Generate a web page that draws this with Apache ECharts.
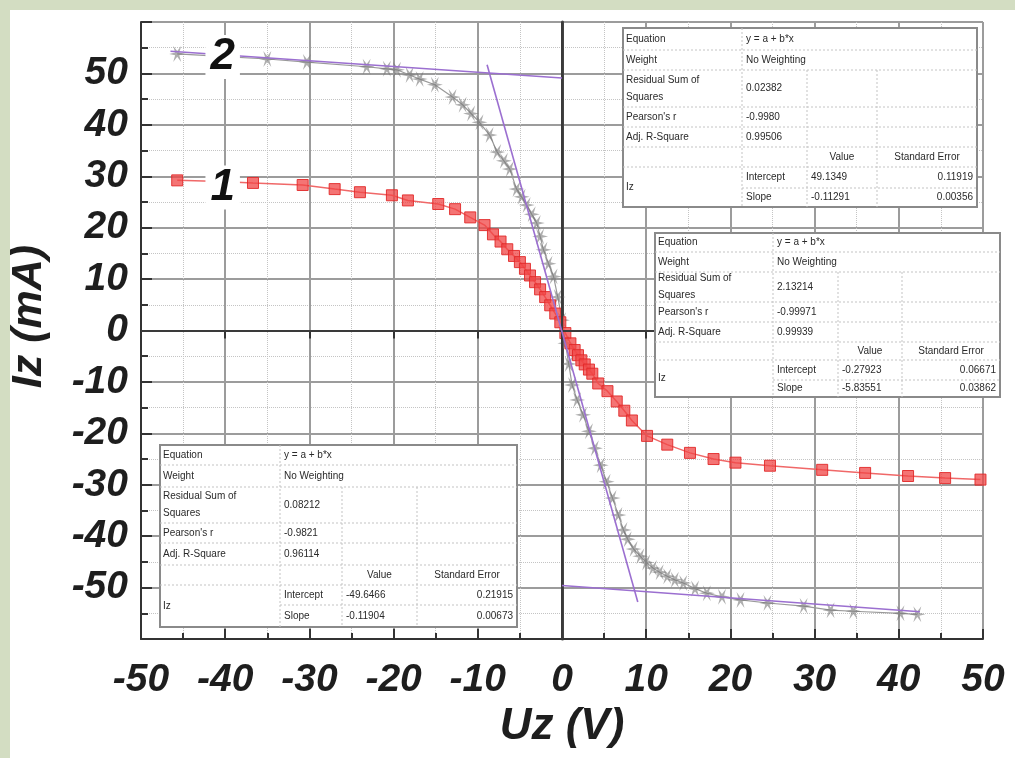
<!DOCTYPE html>
<html>
<head>
<meta charset="utf-8">
<script src="https://cdn.jsdelivr.net/npm/echarts@6/dist/echarts.min.js"></script>
<style>
  html, body { margin: 0; padding: 0; background: #fff; }
  #chart { width: 1015px; height: 758px; }
</style>
</head>
<body>
<div id="chart"></div>
<script>
// curve 1 (red squares) : Uz (V), Iz (mA)
var curve1X = [-45.7, -40.5, -36.7, -30.8, -27.0, -24.0, -20.2, -18.3, -14.7, -12.7, -10.9, -9.2, -8.2, -7.3, -6.5, -5.7, -5.0, -4.4, -3.8, -3.2, -2.6, -2.0, -1.4, -0.8, -0.2, 0.4, 1.0, 1.5, 1.9, 2.3, 2.7, 3.2, 3.6, 4.3, 5.4, 6.5, 7.4, 8.3, 10.1, 12.5, 15.2, 18.0, 20.6, 24.7, 30.9, 36.0, 41.1, 45.5, 49.7];
var curve1Y = [29.2, 29.0, 28.7, 28.3, 27.5, 26.9, 26.3, 25.3, 24.6, 23.6, 22.0, 20.5, 18.7, 17.3, 15.8, 14.5, 13.3, 12.0, 10.7, 9.4, 8.0, 6.5, 4.9, 3.3, 1.6, -0.5, -2.5, -3.8, -4.8, -5.8, -6.6, -7.6, -8.4, -10.3, -11.8, -13.8, -15.6, -17.5, -20.5, -22.2, -23.8, -25.0, -25.7, -26.3, -27.1, -27.7, -28.3, -28.7, -29.0];

// curve 2 (grey stars)
var curve2X = [-45.7, -40.5, -35.0, -30.3, -23.2, -20.8, -19.6, -18.1, -16.9, -15.1, -13.0, -11.8, -10.8, -9.8, -8.6, -7.7, -6.9, -6.2, -5.4, -4.8, -4.2, -3.6, -3.0, -2.6, -2.2, -1.6, -1.0, -0.5, 0.0, 0.4, 0.8, 1.2, 1.8, 2.5, 3.2, 3.9, 4.6, 5.3, 6.0, 6.7, 7.3, 7.8, 8.5, 9.3, 10.0, 10.8, 11.6, 12.5, 13.4, 14.4, 15.8, 17.2, 19.0, 21.2, 24.4, 28.7, 31.9, 34.6, 40.2, 42.2];
var curve2Y = [53.8, 53.3, 52.8, 52.2, 51.3, 50.9, 50.7, 49.7, 48.9, 47.8, 45.4, 43.9, 42.2, 40.5, 38.0, 34.7, 33.0, 31.4, 27.5, 26.0, 24.4, 22.6, 20.9, 18.3, 15.7, 13.0, 10.5, 6.5, 2.0, -2.5, -6.5, -10.6, -13.5, -16.4, -19.6, -22.9, -26.2, -29.4, -32.6, -35.9, -38.8, -40.6, -42.5, -43.9, -45.1, -46.2, -47.0, -47.8, -48.5, -49.1, -50.2, -51.1, -51.8, -52.4, -53.0, -53.6, -54.4, -54.6, -55.0, -55.2];

// linear fit segments (end points)
var fitTop = [[-46.5, 54.3], [0, 49.1]];
var fitMid = [[-8.9, 51.7], [9.0, -52.8]];
var fitBottom = [[0, -49.6], [42.5, -54.7]];

// curve number labels: text, Uz, Iz
var curveLabels = [['2', -40.3, 53.2], ['1', -40.3, 27.8]];

var yHiddenTicks = [60, -60];

// fit result tables
var rowNames = ['Equation', 'Weight', 'Residual Sum of\nSquares', "Pearson's r", 'Adj. R-Square'];
var tableTop = ['y = a + b*x', 'No Weighting', '0.02382', '-0.9980', '0.99506', '49.1349', '0.11919', '-0.11291', '0.00356'];
var tableMid = ['y = a + b*x', 'No Weighting', '2.13214', '-0.99971', '0.99939', '-0.27923', '0.06671', '-5.83551', '0.03862'];
var tableLow = ['y = a + b*x', 'No Weighting', '0.08212', '-0.9821', '0.96114', '-49.6466', '0.21915', '-0.11904', '0.00673'];

var tableTopGeom = { x: [623, 742, 807, 877, 977], y: [28, 50, 70, 107, 127, 147, 167, 188, 207] };
var tableMidGeom = { x: [655, 773, 838, 902, 1000], y: [233, 252, 272, 302, 322, 342, 360, 380, 397] };
var tableLowGeom = { x: [160, 280, 342, 417, 517], y: [445, 465, 487, 523, 543, 565, 585, 605, 627] };

var FONT = "'Liberation Sans', Arial, sans-serif";
var starPath = 'path://M20 10 L12.6 11.5 L15 18.66 L10 13 L5 18.66 L7.4 11.5 L0 10 L7.4 8.5 L5 1.34 L10 7 L15 1.34 L12.6 8.5 Z';

function zip(xs, ys) {
    var out = [];
    for (var i = 0; i < xs.length; i++) out.push([xs[i], ys[i]]);
    return out;
}

function makeTable(g, vals) {
    var X = g.x, Y = g.y, els = [];
    var line = '#c4c4c4';
    els.push({ type: 'rect', z: 100, shape: { x: X[0], y: Y[0], width: X[4] - X[0], height: Y[8] - Y[0] },
        style: { fill: '#fff', stroke: '#8a8a8a', lineWidth: 2 } });
    for (var i = 1; i < 8; i++) {
        els.push({ type: 'line', z: 101, shape: { x1: i === 7 ? X[1] : X[0], y1: Y[i], x2: X[4], y2: Y[i] },
            style: { stroke: line, lineWidth: 1, lineDash: [2, 2] } });
    }
    els.push({ type: 'line', z: 101, shape: { x1: X[1], y1: Y[0], x2: X[1], y2: Y[8] }, style: { stroke: line, lineWidth: 1, lineDash: [2, 2] } });
    els.push({ type: 'line', z: 101, shape: { x1: X[2], y1: Y[2], x2: X[2], y2: Y[8] }, style: { stroke: line, lineWidth: 1, lineDash: [2, 2] } });
    els.push({ type: 'line', z: 101, shape: { x1: X[3], y1: Y[2], x2: X[3], y2: Y[8] }, style: { stroke: line, lineWidth: 1, lineDash: [2, 2] } });

    function txt(s, x, y, align) {
        els.push({ type: 'text', z: 102, x: x, y: y,
            style: { text: s, fill: '#2a2a2a', font: '10px ' + FONT, align: align || 'left', verticalAlign: 'middle', lineHeight: 17 } });
    }
    for (var r = 0; r < 5; r++) {
        txt(rowNames[r], X[0] + 3, (Y[r] + Y[r + 1]) / 2);
        txt(vals[r], X[1] + 4, (Y[r] + Y[r + 1]) / 2);
    }
    txt('Value', (X[2] + X[3]) / 2, (Y[5] + Y[6]) / 2, 'center');
    txt('Standard Error', (X[3] + X[4]) / 2, (Y[5] + Y[6]) / 2, 'center');
    txt('Iz', X[0] + 3, (Y[6] + Y[8]) / 2);
    txt('Intercept', X[1] + 4, (Y[6] + Y[7]) / 2);
    txt('Slope', X[1] + 4, (Y[7] + Y[8]) / 2);
    txt(vals[5], X[2] + 4, (Y[6] + Y[7]) / 2);
    txt(vals[7], X[2] + 4, (Y[7] + Y[8]) / 2);
    txt(vals[6], X[4] - 4, (Y[6] + Y[7]) / 2, 'right');
    txt(vals[8], X[4] - 4, (Y[7] + Y[8]) / 2, 'right');
    return els;
}

var chart = echarts.init(document.getElementById('chart'));

var labelFont = { color: '#1e1e1e', fontFamily: FONT, fontWeight: 'bold', fontStyle: 'italic', fontSize: 39 };

var graphics = [
    { type: 'rect', z: 0, shape: { x: 0, y: 0, width: 10, height: 758 }, style: { fill: '#d3ddc2' } },
    { type: 'rect', z: 0, shape: { x: 0, y: 0, width: 1015, height: 10 }, style: { fill: '#d3ddc2' } }
].concat(makeTable(tableTopGeom, tableTop), makeTable(tableMidGeom, tableMid), makeTable(tableLowGeom, tableLow));

chart.setOption({
    animation: false,
    backgroundColor: '#ffffff',
    grid: { left: 140, right: 32, top: 22, bottom: 119 },
    xAxis: [{
        type: 'value', min: -50, max: 50, interval: 10,
        name: 'Uz (V)', nameLocation: 'middle', nameGap: 66,
        nameTextStyle: Object.assign({}, labelFont, { fontSize: 44 }),
        axisLine: { onZero: false, lineStyle: { color: '#333', width: 2 } },
        axisTick: { inside: true, length: 10, lineStyle: { color: '#333', width: 2 } },
        minorTick: { show: true, splitNumber: 2, length: 6, lineStyle: { color: '#333', width: 2 } },
        axisLabel: Object.assign({ margin: 22 }, labelFont),
        splitLine: { show: true, lineStyle: { color: '#9c9c9c', width: 2 } },
        minorSplitLine: { show: true, lineStyle: { color: '#c4c4c4', width: 1, type: 'dotted' } }
    }, {
        type: 'value', min: -50, max: 50, interval: 10, position: 'top',
        axisLine: { lineStyle: { color: '#333', width: 2 } },
        axisTick: { inside: true, length: 8, lineStyle: { color: '#333', width: 2 } },
        axisLabel: { show: false }, splitLine: { show: false }
    }],
    yAxis: [{
        type: 'value', min: -60, max: 60, interval: 10,
        name: 'Iz (mA)', nameLocation: 'middle', nameGap: 90,
        nameTextStyle: Object.assign({}, labelFont, { fontSize: 43, padding: [0, 0, 0, 28] }),
        axisLine: { show: true, onZero: false, lineStyle: { color: '#333', width: 2 } },
        axisTick: { show: true, inside: true, length: 11, lineStyle: { color: '#333', width: 2 } },
        minorTick: { show: true, splitNumber: 2, length: 7, lineStyle: { color: '#333', width: 2 } },
        axisLabel: Object.assign({
            margin: 13,
            formatter: function (v) { return yHiddenTicks.indexOf(v) >= 0 ? '' : String(v); }
        }, labelFont),
        splitLine: { show: true, lineStyle: { color: '#9c9c9c', width: 2 } },
        minorSplitLine: { show: true, lineStyle: { color: '#c4c4c4', width: 1, type: 'dotted' } }
    }, {
        type: 'value', min: -60, max: 60, interval: 10, position: 'right',
        axisLine: { show: true, lineStyle: { color: '#444', width: 3 } },
        axisTick: { show: false }, axisLabel: { show: false }, splitLine: { show: false }
    }],
    graphic: graphics,
    series: [
        {
            type: 'line', silent: true, data: [], symbol: 'none',
            markLine: {
                symbol: 'none', silent: true, label: { show: false },
                lineStyle: { color: '#3a3a3a', width: 2, type: 'solid' },
                data: [{ xAxis: 0 }, { yAxis: 0 }]
            }
        },
        {
            name: '2', type: 'line', data: zip(curve2X, curve2Y), z: 3,
            symbol: starPath, symbolSize: 16,
            itemStyle: { color: 'rgba(120,120,120,0.6)' },
            lineStyle: { color: '#9a9a9a', width: 1.2 }
        },
        {
            name: '1', type: 'line', data: zip(curve1X, curve1Y), z: 4,
            symbol: 'rect', symbolSize: 11,
            itemStyle: { color: 'rgba(240,70,70,0.75)', borderColor: 'rgba(225,40,40,0.9)', borderWidth: 1 },
            lineStyle: { color: '#f06868', width: 1.5 }
        },
        { type: 'line', data: fitTop, symbol: 'none', z: 5, lineStyle: { color: '#9b6fd0', width: 1.6 } },
        { type: 'line', data: fitMid, symbol: 'none', z: 5, lineStyle: { color: '#9b6fd0', width: 1.6 } },
        { type: 'line', data: fitBottom, symbol: 'none', z: 5, lineStyle: { color: '#9b6fd0', width: 1.6 } }
    ]
});

// curve number labels, placed through the axes' scales
var labelEls = curveLabels.map(function (c) {
    var p = chart.convertToPixel({ gridIndex: 0 }, [c[1], c[2]]);
    return {
        type: 'text', z: 60, x: p[0], y: p[1],
        style: {
            text: c[0], fill: '#111', font: 'italic bold 44px ' + FONT,
            align: 'center', verticalAlign: 'middle',
            backgroundColor: '#ffffff', padding: [0, 5, 0, 5]
        }
    };
});
chart.setOption({ graphic: graphics.concat(labelEls) });
</script>
</body>
</html>
